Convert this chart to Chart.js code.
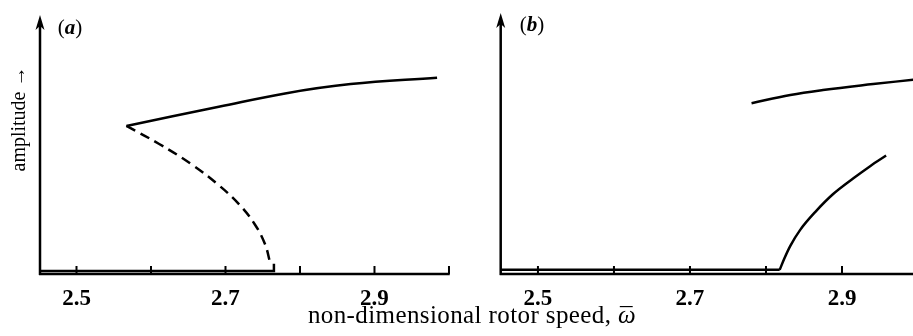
<!DOCTYPE html>
<html>
<head>
<meta charset="utf-8">
<script src="https://cdn.jsdelivr.net/npm/chart.js@4"></script>
<style>
html, body { margin: 0; padding: 0; background: #fff; }
#wrap { position: relative; width: 913px; height: 336px; overflow: hidden; font-family: "Liberation Serif", serif; color: #000; }
#wrap canvas { position: absolute; top: 0; }
#chartA { left: 0; }
#chartB { left: 460px; }
.txt { position: absolute; white-space: nowrap; }
#ytitle { left: 18px; top: 119px; font-size: 20px; line-height: 20px; transform: translate(-50%, -50%) rotate(-90deg); }
#xtitle { left: 472px; top: 302px; font-size: 25px; line-height: 25px; letter-spacing: 0.4px; transform: translateX(-50%); }
.om { position: relative; display: inline-block; font-style: italic; }
.om .bar { position: absolute; left: 2px; top: 2px; font-style: normal; }
.plabel { font-size: 21px; line-height: 21px; transform: translate(-50%, -50%); }
#labA { left: 70px; top: 27px; }
#labB { left: 532px; top: 24px; }
</style>
</head>
<body>
<div id="wrap">
  <canvas id="chartA" width="460" height="336"></canvas>
  <canvas id="chartB" width="453" height="336"></canvas>
  <div class="txt plabel" id="labA">(<b><i>a</i></b>)</div>
  <div class="txt plabel" id="labB">(<b><i>b</i></b>)</div>
  <div class="txt" id="ytitle">amplitude &rarr;</div>
  <div class="txt" id="xtitle">non-dimensional rotor speed, <span class="om">&omega;<span class="bar">&macr;</span></span></div>
</div>
<script>
// axis ticks (non-dimensional rotor speed)
const xTicks = [2.5, 2.6, 2.7, 2.8, 2.9, 3.0];
const xTickLabels = ['2.5', '', '2.7', '', '2.9', ''];

// panel (a): amplitude (0 = axis, 1 = top of arrow)
const aLowerX = [2.451, 2.765, 2.765];
const aLowerY = [0.012, 0.012, 0.040];
const aDashedX = [2.567, 2.611, 2.654, 2.689, 2.718, 2.739, 2.753, 2.760];
const aDashedY = [0.574, 0.504, 0.426, 0.349, 0.271, 0.194, 0.116, 0.043];
const aUpperX = [2.567, 2.691, 2.780, 2.868, 2.984];
const aUpperY = [0.574, 0.648, 0.700, 0.736, 0.761];

// panel (b)
const bLowerX = [2.451, 2.818];
const bLowerY = [0.016, 0.016];
const bRiseX = [2.818, 2.824, 2.832, 2.845, 2.865, 2.888, 2.915, 2.937, 2.958];
const bRiseY = [0.016, 0.059, 0.109, 0.171, 0.241, 0.309, 0.371, 0.418, 0.459];
const bUpperX = [2.781, 2.832, 2.875, 2.941, 3.000];
const bUpperY = [0.662, 0.694, 0.713, 0.736, 0.755];

function toPoints(xs, ys) {
    return xs.map((x, i) => ({ x: x, y: ys[i] }));
}

function curve(xs, ys, dashed, tension, mode) {
    return {
        data: toPoints(xs, ys),
        borderColor: '#000',
        borderWidth: 2.5,
        borderDash: dashed ? [10, 6] : [],
        tension: tension,
        cubicInterpolationMode: mode || 'default',
        pointRadius: 0,
        fill: false
    };
}

// draws the axes by hand: arrow on the y axis, ticks pointing up
const axesArrow = {
    id: 'axesArrow',
    afterDatasetsDraw(chart, args, opts) {
        const ctx = chart.ctx;
        const a = chart.chartArea;
        const x = chart.scales.x;
        ctx.save();
        ctx.strokeStyle = '#000';
        ctx.fillStyle = '#000';
        ctx.lineWidth = 2.5;
        ctx.beginPath();
        ctx.moveTo(a.left - 1, a.bottom);
        ctx.lineTo(a.right, a.bottom);
        ctx.moveTo(a.left, a.bottom + 1);
        ctx.lineTo(a.left, opts.tip + 10);
        ctx.stroke();

        ctx.beginPath();
        ctx.moveTo(a.left, opts.tip);
        ctx.lineTo(a.left + 4.5, opts.tip + 15);
        ctx.lineTo(a.left, opts.tip + 11);
        ctx.lineTo(a.left - 4.5, opts.tip + 15);
        ctx.closePath();
        ctx.fill();

        ctx.lineWidth = 2;
        ctx.beginPath();
        x.ticks.forEach(t => {
            const px = x.getPixelForValue(t.value);
            ctx.moveTo(px, a.bottom);
            ctx.lineTo(px, a.bottom - 8);
        });
        ctx.stroke();
        ctx.restore();
    }
};

function makeChart(id, datasets, xMin, xMax, padLeft, padRight, tip) {
    return new Chart(document.getElementById(id), {
        type: 'line',
        data: { datasets: datasets },
        options: {
            responsive: false,
            animation: false,
            events: [],
            layout: { padding: { top: 16, left: padLeft, right: padRight, bottom: 0 } },
            plugins: {
                legend: { display: false },
                tooltip: { enabled: false },
                axesArrow: { tip: tip }
            },
            scales: {
                x: {
                    type: 'linear',
                    min: xMin,
                    max: xMax,
                    afterBuildTicks: s => {
                        s.ticks = xTicks.filter(v => v >= xMin && v <= xMax).map(v => ({ value: v }));
                    },
                    afterFit: s => { s.height = 62; },
                    grid: { display: false, drawTicks: false },
                    border: { display: false },
                    ticks: {
                        autoSkip: false,
                        maxRotation: 0,
                        padding: 11,
                        color: '#000',
                        font: { family: 'Liberation Serif', size: 23, weight: 'bold' },
                        callback: (v, i) => xTickLabels[i]
                    }
                },
                y: { display: false, min: 0, max: 1 }
            }
        },
        plugins: [axesArrow]
    });
}

makeChart('chartA', [
    curve(aLowerX, aLowerY, false, 0),
    curve(aDashedX, aDashedY, true, 0.4),
    curve(aUpperX, aUpperY, false, 0.4)
], 2.451, 3.001, 40, 7, 15);

makeChart('chartB', [
    curve(bLowerX, bLowerY, false, 0),
    curve(bRiseX, bRiseY, false, 0.4, 'monotone'),
    curve(bUpperX, bUpperY, false, 0.4)
], 2.451, 2.9934, 40.7, 0, 13);
</script>
</body>
</html>
